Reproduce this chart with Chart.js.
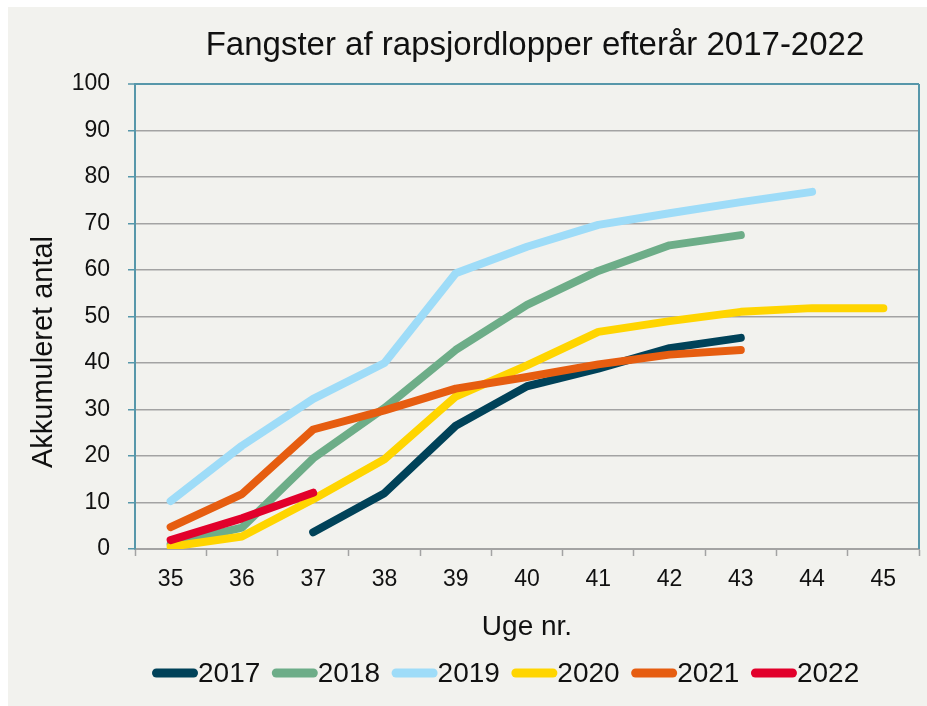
<!DOCTYPE html>
<html>
<head>
<meta charset="utf-8">
<script src="https://cdn.jsdelivr.net/npm/chart.js@4/dist/chart.umd.min.js"></script>
<style>
  html, body { margin: 0; padding: 0; background: #ffffff; }
  #c { display: block; }
</style>
</head>
<body>
<canvas id="c" width="927" height="706"></canvas>
<script>
// ---- Data ----
const weeks = ['35', '36', '37', '38', '39', '40', '41', '42', '43', '44', '45'];
const y2017 = [null, null, 3.6, 12, 26.5, 35, 38.8, 43.2, 45.4, null, null];
const y2018 = [1, 4.6, 19.5, 30.3, 42.8, 52.5, 59.8, 65.3, 67.5, null, null];
const y2019 = [10.3, 22.2, 32.3, 40, 59.3, 65, 69.7, 72.2, 74.6, 76.8, null];
const y2020 = [0.5, 2.7, 10.7, 19.3, 32.8, 39.5, 46.7, 49, 51, 51.8, 51.8];
const y2021 = [4.7, 11.8, 25.7, 29.8, 34.5, 37, 39.7, 41.8, 42.8, null, null];
const y2022 = [1.9, 6.6, 12.1, null, null, null, null, null, null, null, null];
const seriesNames = ['2017', '2018', '2019', '2020', '2021', '2022'];
const seriesData = [y2017, y2018, y2019, y2020, y2021, y2022];
const seriesColors = ['#004259', '#6dad88', '#9edcf8', '#ffd500', '#e65d10', '#e2002b'];
const yTicks = [0, 10, 20, 30, 40, 50, 60, 70, 80, 90, 100];
const titleText = 'Fangster af rapsjordlopper efterår 2017-2022';
const xTitle = 'Uge nr.';
const yTitle = 'Akkumuleret antal';

const FONT = '"Liberation Sans", Arial, sans-serif';
const TEAL = '#5797aa';
const GRID = '#a3a3a3';
const BG = '#f2f2ee';

const bgPlugin = {
  id: 'bg',
  beforeDraw(chart) {
    const ctx = chart.ctx;
    ctx.save();
    ctx.fillStyle = '#ffffff';
    ctx.fillRect(0, 0, chart.width, chart.height);
    ctx.fillStyle = BG;
    ctx.fillRect(8, 7, chart.width - 8, chart.height - 7);
    ctx.restore();
  },
  beforeDatasetsDraw(chart) {
    const ctx = chart.ctx;
    const a = chart.chartArea;
    ctx.save();
    ctx.strokeStyle = TEAL;
    ctx.lineWidth = 2;
    ctx.beginPath();
    ctx.moveTo(a.right, a.top);
    ctx.lineTo(a.right, a.bottom);
    ctx.stroke();
    ctx.restore();
  },
  afterDraw(chart) {
    const ctx = chart.ctx;
    ctx.save();
    // Title
    ctx.fillStyle = '#111111';
    ctx.font = '33px ' + FONT;
    ctx.textAlign = 'center';
    ctx.textBaseline = 'alphabetic';
    ctx.fillText(titleText, 535, 55);
    // Y title
    ctx.save();
    ctx.translate(52, 352);
    ctx.rotate(-Math.PI / 2);
    ctx.font = '29px ' + FONT;
    ctx.textAlign = 'center';
    ctx.fillText(yTitle, 0, 0);
    ctx.restore();
    // Legend
    ctx.font = '28px ' + FONT;
    ctx.textAlign = 'left';
    let x = 152;
    const yc = 673;
    chart.data.datasets.forEach((ds) => {
      ctx.strokeStyle = ds.borderColor;
      ctx.lineWidth = 9;
      ctx.lineCap = 'round';
      ctx.beginPath();
      ctx.moveTo(x + 4.5, yc);
      ctx.lineTo(x + 41.5, yc);
      ctx.stroke();
      x += 46;
      ctx.fillStyle = '#111111';
      ctx.fillText(ds.label, x, 682);
      x += ctx.measureText(ds.label).width + 11.5;
    });
    ctx.restore();
  }
};

const datasets = seriesNames.map((name, i) => ({
  label: name,
  data: seriesData[i],
  borderColor: seriesColors[i],
  backgroundColor: seriesColors[i],
  borderWidth: 8,
  borderCapStyle: 'round',
  borderJoinStyle: 'round',
  pointRadius: 0,
  pointHoverRadius: 0,
  tension: 0,
  fill: false,
  spanGaps: false,
  order: -i
}));

new Chart(document.getElementById('c'), {
  type: 'line',
  data: { labels: weeks, datasets },
  plugins: [bgPlugin],
  options: {
    responsive: false,
    animation: false,
    devicePixelRatio: 1,
    layout: { padding: { top: 84, right: 8, bottom: 57, left: 0 } },
    plugins: {
      legend: { display: false },
      title: { display: false },
      tooltip: { enabled: false }
    },
    scales: {
      x: {
        type: 'category',
        offset: true,
        grid: {
          offset: true,
          drawOnChartArea: false,
          drawTicks: true,
          tickLength: 7,
          tickColor: GRID,
          tickWidth: 1.5,
          color: GRID
        },
        border: { display: true, color: GRID, width: 2 },
        ticks: {
          color: '#111111',
          padding: 10,
          font: { family: FONT, size: 23 },
          maxRotation: 0,
          autoSkip: false
        },
        title: {
          display: true,
          text: xTitle,
          color: '#111111',
          font: { family: FONT, size: 28 },
          padding: { top: 0, bottom: 5 }
        },
        afterFit(scale) { scale.height = 100; }
      },
      y: {
        min: 0,
        max: 100,
        afterBuildTicks(scale) { scale.ticks = yTicks.map(v => ({ value: v })); },
        grid: {
          color: (c) => (c.tick && c.tick.value === 100 ? TEAL : GRID),
          lineWidth: (c) => (c.tick && c.tick.value === 100 ? 2 : 1.5),
          tickColor: TEAL,
          tickLength: 7,
          tickWidth: 1.5,
          drawTicks: true
        },
        border: { display: true, color: TEAL, width: 2 },
        ticks: {
          color: '#111111',
          padding: 18,
          font: { family: FONT, size: 23 }
        },
        afterFit(scale) { scale.width = 135; }
      }
    }
  }
});
</script>
</body>
</html>
